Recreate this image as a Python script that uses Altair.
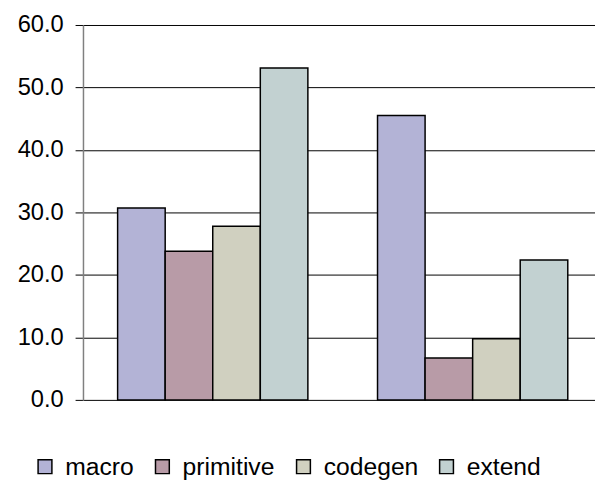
import altair as alt
import pandas as pd

groups = ["A", "B"]
series = ["macro", "primitive", "codegen", "extend"]
values_a = [30.7, 23.8, 27.8, 53.1]
values_b = [45.5, 6.7, 9.8, 22.4]
colors = ["#b3b3d6", "#b89ba7", "#d0d0c0", "#c2d1d1"]
y_ticks = [0, 10, 20, 30, 40, 50, 60]

rows = []
for g, vals in zip(groups, [values_a, values_b]):
    for s, v in zip(series, vals):
        rows.append({"group": g, "series": s, "value": v})
df = pd.DataFrame(rows)

chart = alt.Chart(df).mark_bar(stroke="black", strokeWidth=1.5).encode(
    x=alt.X("group:N", axis=None,
            scale=alt.Scale(paddingInner=0.268, paddingOuter=0.119, align=0.56)),
    xOffset=alt.XOffset("series:N", sort=series,
                        scale=alt.Scale(paddingInner=0, paddingOuter=0)),
    y=alt.Y("value:Q", title=None,
            scale=alt.Scale(domain=[0, 60], nice=False),
            axis=alt.Axis(values=y_ticks, format=".1f", grid=True,
                          gridColor="black", gridWidth=1, gridOpacity=1,
                          domainColor="#808080", domainWidth=1.5,
                          tickColor="black", tickSize=8, tickWidth=1,
                          labelPadding=12, labelFontSize=24,
                          labelFont="Liberation Sans", labelColor="black")),
    color=alt.Color("series:N", sort=series,
                    scale=alt.Scale(domain=series, range=colors),
                    legend=alt.Legend(orient="none", legendX=-51, legendY=435,
                                      direction="horizontal", columns=4,
                                      title=None, symbolType="square",
                                      symbolSize=196, symbolStrokeColor="black",
                                      symbolStrokeWidth=1.5,
                                      labelFontSize=25, labelFont="Liberation Sans",
                                      labelColor="black", columnPadding=16,
                                      labelOffset=8)),
).properties(
    width=519, height=380,
    autosize=alt.AutoSizeParams(type="none"),
    padding={"left": 76, "top": 14, "right": 0, "bottom": 79},
).configure_view(stroke=None)

chart.save("out.html", embed_options={"renderer": "svg", "actions": False})
